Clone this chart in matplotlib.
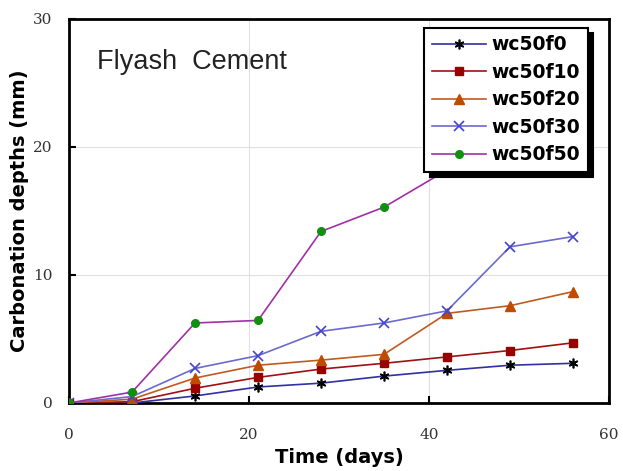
import matplotlib.pyplot as plt

days = [0, 7, 14, 21, 28, 35, 42, 49, 56]
wc50f0 = [0, 0, 0.55, 1.25, 1.55, 2.1, 2.55, 2.95, 3.1]
wc50f10 = [0, 0.1, 1.15, 2.0, 2.65, 3.1, 3.6, 4.1, 4.7]
wc50f20 = [0, 0.3, 1.95, 2.95, 3.35, 3.8, 7.0, 7.6, 8.7]
wc50f30 = [0, 0.5, 2.7, 3.7, 5.6, 6.25, 7.2, 12.2, 13.0]
wc50f50 = [0, 0.85, 6.25, 6.45, 13.4, 15.3, 18.2, 21.5, 23.0]

fig = plt.figure(figsize=(6.23, 4.71), dpi=100)
ax = fig.add_axes([0.1108, 0.1444, 0.8667, 0.8153])

ax.plot(days, wc50f0, color='#3030a0', lw=1.2, marker=(6, 2, 0), ms=7,
        mec='black', mew=1.2, label='wc50f0', zorder=3)
ax.plot(days, wc50f10, color='#a01010', lw=1.2, marker='s', ms=5.5,
        mfc='#990000', mec='#990000', label='wc50f10', zorder=3)
ax.plot(days, wc50f20, color='#c05a20', lw=1.2, marker='^', ms=6.5,
        mfc='#c04a00', mec='#c04a00', label='wc50f20', zorder=3)
ax.plot(days, wc50f30, color='#6a6ad0', lw=1.2, marker='x', ms=7,
        mec='#4444cc', mew=1.2, label='wc50f30', zorder=3)
ax.plot(days, wc50f50, color='#a030a8', lw=1.2, marker='o', ms=5.5,
        mfc='#109010', mec='#109010', label='wc50f50', zorder=3)

ax.set_xlim(0, 60)
ax.set_ylim(0, 30)
ax.set_xticks([0, 20, 40, 60])
ax.set_yticks([0, 10, 20, 30])
ax.grid(True, color='#e0e0e0', lw=0.8)
ax.tick_params(direction='in', length=5, width=1.5)
ax.tick_params(axis='x', pad=18)
ax.tick_params(axis='y', pad=12)
for lbl in ax.get_xticklabels() + ax.get_yticklabels():
    lbl.set_family('DejaVu Serif')
    lbl.set_fontsize(11)
    lbl.set_color('#333333')
for s in ax.spines.values():
    s.set_linewidth(2)

ax.set_xlabel('Time (days)', family='DejaVu Sans', fontweight='bold',
              fontsize=14, labelpad=4)
ax.set_ylabel('Carbonation depths (mm)', family='DejaVu Sans',
              fontweight='bold', fontsize=14, labelpad=3)

ax.text(0.052, 0.888, 'Flyash  Cement', transform=ax.transAxes, va='center',
        family='Liberation Sans', fontsize=19.5, color='#222222')

leg = ax.legend(loc='upper right', bbox_to_anchor=(0.961, 0.977),
                borderaxespad=0, fancybox=False, framealpha=1,
                edgecolor='black',
                shadow={'color': 'black', 'alpha': 1, 'ox': 4, 'oy': -4},
                prop={'family': 'DejaVu Sans', 'weight': 'bold', 'size': 13.5},
                handlelength=2.9, handletextpad=0.3, labelspacing=0.45,
                borderpad=0.4)
leg.get_frame().set_linewidth(1.5)
leg.set_zorder(5)

fig.savefig('out.png', dpi=100)
